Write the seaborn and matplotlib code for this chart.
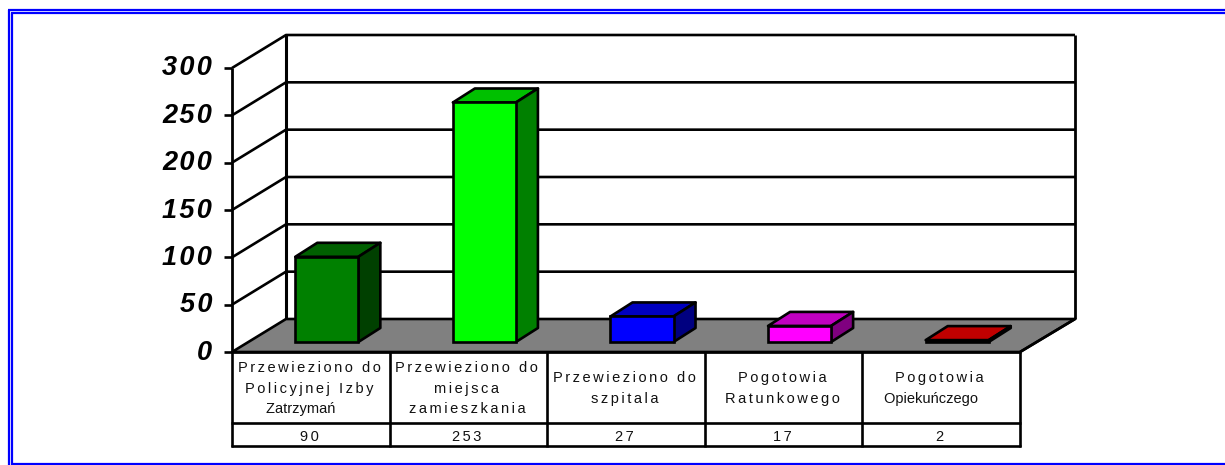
import matplotlib
matplotlib.use("Agg")
import matplotlib.pyplot as plt
import matplotlib.transforms as mtrans
from matplotlib.patches import Polygon
from matplotlib.lines import Line2D
import pandas as pd
import seaborn as sns

categories = ["Przewieziono do\nPolicyjnej Izby\nZatrzymań", "Przewieziono do\nmiejsca\nzamieszkania",
              "Przewieziono do\nszpitala", "Pogotowia\nRatunkowego", "Pogotowia\nOpiekuńczego"]
values = [90, 253, 27, 17, 2]
y_ticks = [0, 50, 100, 150, 200, 250, 300]
front_colors = ["#008000", "#00FF00", "#0000FF", "#FF00FF", "#FF0000"]
top_colors = ["#006000", "#00C000", "#0000C0", "#C000C0", "#C00000"]
side_colors = ["#004000", "#008000", "#000080", "#800080", "#800000"]

W, H = 1225, 465
sns.set_theme(style="white")
plt.rcParams["font.family"] = ["Liberation Sans", "DejaVu Sans"]

fig = plt.figure(figsize=(W / 100, H / 100), dpi=100, facecolor="white")
# ax fills the front plane of the chart
x0, x1, y0, y1 = 232, 1020, 352, 68
ax = fig.add_axes([x0 / W, 1 - y0 / H, (x1 - x0) / W, (y0 - y1) / H])
ax.patch.set_alpha(0)

pixel = mtrans.Affine2D().scale(1, -1).translate(0, H)  # reference pixels -> display
LW = 1.9
dx, dy = 54, 33  # wall depth in pixels
bdx, bdy = 22, 14  # bar depth
ox, oy = 16, 10  # bars sit a bit behind the front plane


def spaced(s, sep="\u200a"):
    return sep.join(s)


def table_line(s):
    # lines with the n-acute are set tight and sit left of centre
    if "ń" in s:
        return s + "    "
    return spaced(s, "\u200a\u200a")


def to_px(x, y):
    d = ax.transData.transform((x, y))
    return d[0], H - d[1]


def poly(pts, fc, z=2, lw=LW):
    ax.add_patch(Polygon(pts, closed=True, facecolor=fc, edgecolor="black", linewidth=lw,
                         transform=pixel, clip_on=False, zorder=z, joinstyle="round"))


def line(pts, lw=LW, z=1, color="black"):
    ax.add_line(Line2D([p[0] for p in pts], [p[1] for p in pts], color=color, linewidth=lw,
                       transform=pixel, clip_on=False, zorder=z, solid_capstyle="butt"))


# front faces of the bars
df = pd.DataFrame({"cat": range(len(values)), "val": values})
sns.barplot(data=df, x="cat", y="val", hue="cat", palette=front_colors, legend=False, ax=ax,
            order=range(len(values)), width=0.4, edgecolor="black", linewidth=LW, dodge=False,
            saturation=1, zorder=3)
ax.set_xlim(-0.5, 4.5)
ax.set_ylim(0, 300)
ax.set_xticks([])
ax.set_yticks([])
ax.set_xlabel("")
ax.set_ylabel("")
sns.despine(ax=ax, left=True, bottom=True)
shift = mtrans.ScaledTranslation(ox / 100, oy / 100, fig.dpi_scale_trans)
for bar in list(ax.patches):
    bar.set_transform(ax.transData + shift)
    bar.set_clip_on(False)

# floor
poly([(x0, y0), (x0 + dx, y0 - dy), (x1 + dx + 1, y0 - dy), (x1, y0)], "#808080", z=1.5)

# walls and grid
for t in y_ticks:
    fx, fy = to_px(-0.5, t)
    if t > 0:
        line([(fx, fy), (fx + dx, fy - dy), (x1 + dx + 1, fy - dy)])
    line([(fx - 8, fy), (fx, fy)])
    ax.text(fx - 20, fy + 0.5, spaced(str(t)), transform=pixel, ha="right", va="center",
            fontsize=19.5, fontweight="bold", fontstyle="italic", color="black")
line([(x0, y0), (x0, y1)], lw=2)
line([(x0 + dx, y0 - dy), (x0 + dx, y1 - dy)], lw=2.2)
line([(x1 + dx + 1, y0 - dy), (x1 + dx + 1, y1 - dy)], lw=2)

# top and side faces
for i, v in enumerate(values):
    xa, ya = to_px(i - 0.2, v)
    xb, yb = to_px(i + 0.2, 0)
    xa, xb, ya, yb = xa + ox, xb + ox, ya - oy, yb - oy
    poly([(xa, ya), (xa + bdx, ya - bdy), (xb + bdx, ya - bdy), (xb, ya)], top_colors[i], z=2.5)
    poly([(xb, ya), (xb + bdx, ya - bdy), (xb + bdx, yb - bdy), (xb, yb)], side_colors[i], z=2.5)

# data table under the chart
row1, row2 = 423, 446
for i, (cat, v) in enumerate(zip(categories, values)):
    cx, _ = to_px(i - 0.01, 0)
    ax.text(cx, (row1 + y0) / 2 + 1, "\n".join(table_line(s) for s in cat.split("\n")),
            transform=pixel, ha="center", va="center", fontsize=10.5, linespacing=1.62, color="#111111")
    ax.text(cx, (row1 + row2) / 2 + 2.5, spaced(str(v), "\u200a\u200a"), transform=pixel, ha="center", va="center",
            fontsize=10.5, color="#111111")
for i in range(len(values) + 1):
    xl, _ = to_px(i - 0.5, 0)
    line([(xl, y0), (xl, row2 + 0.7)], z=2)
line([(x0 - 1, y0), (x1 + 1, y0)], z=2)
line([(x0 - 1, row1), (x1 + 1, row1)], z=2)
line([(x0 - 1, row2), (x1 + 1, row2)], z=2)
line([(x1, y0), (x1 + dx + 1, y0 - dy)], z=2)

# blue double frame
blue = "#0000FF"
line([(8, 10), (W, 10)], lw=1.6, color=blue, z=5)
line([(11, 13), (W, 13)], lw=1.6, color=blue, z=5)
line([(9, 10), (9, H)], lw=1.6, color=blue, z=5)
line([(12, 13), (12, H)], lw=1.6, color=blue, z=5)
line([(11, 464), (W, 464)], lw=1.6, color=blue, z=5)

fig.savefig("out.png", dpi=100)
